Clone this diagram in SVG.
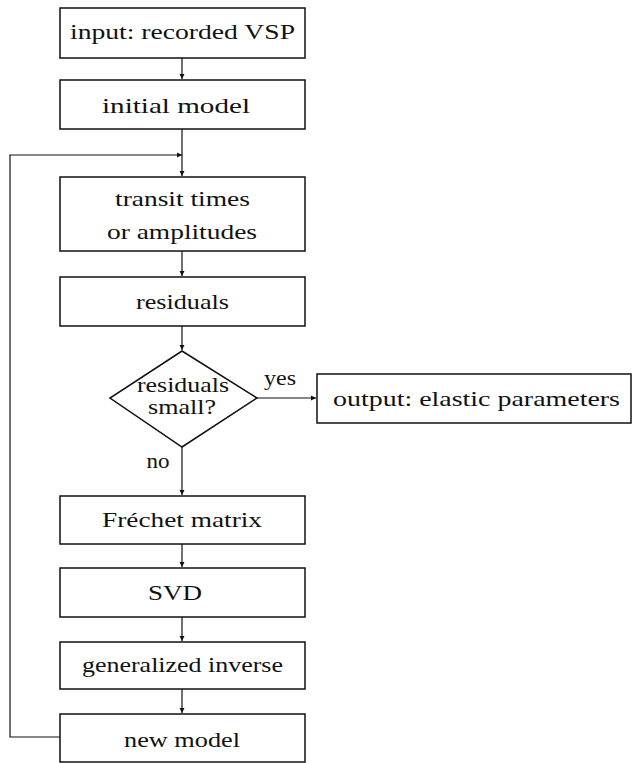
<svg xmlns="http://www.w3.org/2000/svg" width="633" height="763" viewBox="0 0 633 763">
<style>
.box{fill:#fff;stroke:#111;stroke-width:1.5}
.t{font-family:"Liberation Serif","DejaVu Serif",serif;font-size:21px;fill:#111;text-anchor:middle}
.c{fill:none;stroke:#111;stroke-width:1.2}
</style>
<defs>
<marker id="ah" markerWidth="6" markerHeight="6" refX="5" refY="3" orient="auto" markerUnits="userSpaceOnUse">
<path d="M0,0.5 L5,3 L0,5.5 Z" fill="#111"/>
</marker>
</defs>
<rect width="633" height="763" fill="#fff"/>
<g id="connectors">
<line class="c" x1="182" y1="58" x2="182" y2="79" marker-end="url(#ah)"/>
<line class="c" x1="182" y1="129" x2="182" y2="176" marker-end="url(#ah)"/>
<polyline class="c" points="60,737 10,737 10,155 182,155" marker-end="url(#ah)"/>
<line class="c" x1="182" y1="251" x2="182" y2="276" marker-end="url(#ah)"/>
<line class="c" x1="182" y1="326" x2="182" y2="350" marker-end="url(#ah)"/>
<line class="c" x1="257" y1="398" x2="316" y2="398" marker-end="url(#ah)"/>
<line class="c" x1="182" y1="447" x2="182" y2="495" marker-end="url(#ah)"/>
<line class="c" x1="182" y1="544" x2="182" y2="567" marker-end="url(#ah)"/>
<line class="c" x1="182" y1="617" x2="182" y2="641" marker-end="url(#ah)"/>
<line class="c" x1="182" y1="689" x2="182" y2="713" marker-end="url(#ah)"/>
<text class="t" x="280" y="385" textLength="32" lengthAdjust="spacingAndGlyphs">yes</text>
<text class="t" x="158" y="468" textLength="23" lengthAdjust="spacingAndGlyphs">no</text>
</g>
<g id="input">
<rect class="box" x="60" y="8" width="245" height="50"/>
<text class="t" x="182.5" y="39" textLength="225" lengthAdjust="spacingAndGlyphs">input: recorded VSP</text>
</g>
<g id="initial-model">
<rect class="box" x="60" y="80" width="245" height="49"/>
<text class="t" x="176" y="113" textLength="148" lengthAdjust="spacingAndGlyphs">initial model</text>
</g>
<g id="transit">
<rect class="box" x="60" y="177" width="245" height="74"/>
<text class="t" x="182.5" y="206" textLength="135" lengthAdjust="spacingAndGlyphs">transit times</text>
<text class="t" x="182" y="239" textLength="150" lengthAdjust="spacingAndGlyphs">or amplitudes</text>
</g>
<g id="residuals">
<rect class="box" x="60" y="277" width="245" height="49"/>
<text class="t" x="182.5" y="309" textLength="93" lengthAdjust="spacingAndGlyphs">residuals</text>
</g>
<g id="decision">
<polygon class="box" points="182,351 257,398 182,447 110,398"/>
<text class="t" x="183" y="392" textLength="92" lengthAdjust="spacingAndGlyphs">residuals</text>
<text class="t" x="182" y="414" textLength="68" lengthAdjust="spacingAndGlyphs">small?</text>
</g>
<g id="output">
<rect class="box" x="317" y="374" width="314" height="49"/>
<text class="t" x="476.5" y="406" textLength="287" lengthAdjust="spacingAndGlyphs">output: elastic parameters</text>
</g>
<g id="frechet">
<rect class="box" x="60" y="496" width="245" height="48"/>
<text class="t" x="182" y="527" textLength="160" lengthAdjust="spacingAndGlyphs">Fréchet matrix</text>
</g>
<g id="svd">
<rect class="box" x="60" y="568" width="245" height="49"/>
<text class="t" x="175" y="600" textLength="54" lengthAdjust="spacingAndGlyphs">SVD</text>
</g>
<g id="ginv">
<rect class="box" x="60" y="642" width="245" height="47"/>
<text class="t" x="182.5" y="672" textLength="201" lengthAdjust="spacingAndGlyphs">generalized inverse</text>
</g>
<g id="new-model">
<rect class="box" x="60" y="714" width="245" height="48"/>
<text class="t" x="182" y="747" textLength="116" lengthAdjust="spacingAndGlyphs">new model</text>
</g>
</svg>
